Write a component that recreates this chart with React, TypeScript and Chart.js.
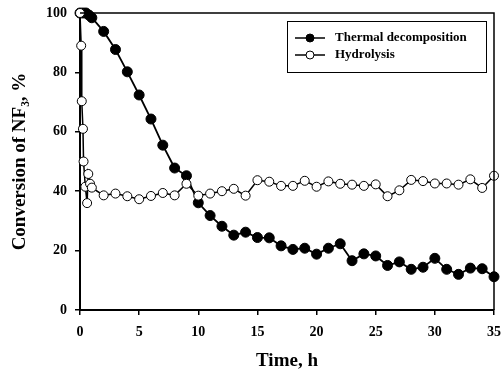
import React, { useEffect, useRef } from "react";
import { Chart, registerables } from "chart.js";

Chart.register(...registerables);

const thermalTime = [0, 0.25, 0.5, 0.75, 1, 2, 3, 4, 5, 6, 7, 8, 9, 10, 11, 12, 13, 14, 15, 16, 17, 18, 19, 20, 21, 22, 23, 24, 25, 26, 27, 28, 29, 30, 31, 32, 33, 34, 35];
const thermalValues = [100, 100, 100, 99.3, 98.4, 93.8, 87.7, 80.2, 72.4, 64.3, 55.5, 47.8, 45.2, 36.1, 31.8, 28.2, 25.2, 26.2, 24.4, 24.3, 21.6, 20.4, 20.8, 18.8, 20.8, 22.3, 16.6, 18.9, 18.2, 15.0, 16.2, 13.7, 14.4, 17.4, 13.7, 12.0, 14.1, 13.9, 11.2];

const hydrolysisTime = [0, 0.1, 0.15, 0.25, 0.3, 0.45, 0.6, 0.7, 0.85, 1, 2, 3, 4, 5, 6, 7, 8, 9, 10, 11, 12, 13, 14, 15, 16, 17, 18, 19, 20, 21, 22, 23, 24, 25, 26, 27, 28, 29, 30, 31, 32, 33, 34, 35];
const hydrolysisValues = [100, 89, 70.3, 61, 50, 41.5, 36, 45.8, 42.5, 41.2, 38.6, 39.2, 38.3, 37.3, 38.4, 39.4, 38.6, 42.5, 38.5, 39.2, 40.0, 40.8, 38.5, 43.7, 43.2, 41.8, 41.8, 43.5, 41.5, 43.3, 42.5, 42.2, 41.8, 42.3, 38.3, 40.3, 43.8, 43.4, 42.6, 42.6, 42.2, 44.0, 41.1, 45.2];

const seriesLabels = ["Thermal decomposition", "Hydrolysis"];
const xTitle = "Time, h";
const yTitle = "Conversion of NF₃, %";

const FONT = "'Liberation Serif', 'Times New Roman', serif";

const framePlugin = {
  id: "frame",
  afterDatasetsDraw(chart: any) {
    const { ctx, chartArea } = chart;
    ctx.save();
    ctx.strokeStyle = "#000";
    ctx.lineWidth = 1.5;
    ctx.beginPath();
    ctx.moveTo(chartArea.left, chartArea.top);
    ctx.lineTo(chartArea.right, chartArea.top);
    ctx.lineTo(chartArea.right, chartArea.bottom);
    ctx.stroke();
    ctx.restore();
  },
};

const legendPlugin = {
  id: "insideLegend",
  afterDraw(chart: any) {
    const { ctx } = chart;
    const x0 = 287, y0 = 21, w = 199, h = 51;
    ctx.save();
    ctx.fillStyle = "#fff";
    ctx.fillRect(x0, y0, w, h);
    ctx.strokeStyle = "#000";
    ctx.lineWidth = 1;
    ctx.strokeRect(x0 + 0.5, y0 + 0.5, w, h);
    const order = [1, 0];
    order.forEach((di, i) => {
      const ds = chart.data.datasets[di];
      const y = y0 + 17 + i * 17;
      ctx.strokeStyle = "#000";
      ctx.lineWidth = 1.5;
      ctx.beginPath();
      ctx.moveTo(x0 + 8, y);
      ctx.lineTo(x0 + 38, y);
      ctx.stroke();
      ctx.beginPath();
      ctx.arc(x0 + 23, y, 4, 0, Math.PI * 2);
      ctx.fillStyle = ds.pointBackgroundColor;
      ctx.fill();
      ctx.lineWidth = 1;
      ctx.stroke();
      ctx.fillStyle = "#000";
      ctx.font = `bold 13px ${FONT}`;
      ctx.textBaseline = "middle";
      ctx.textAlign = "left";
      ctx.fillText(ds.label, x0 + 48, y);
    });
    ctx.restore();
  },
};

export default function App() {
  const ref = useRef<HTMLCanvasElement>(null);
  useEffect(() => {
    const thermal = thermalTime.map((t, i) => ({ x: t, y: thermalValues[i] }));
    const hydro = hydrolysisTime.map((t, i) => ({ x: t, y: hydrolysisValues[i] }));
    const chart = new Chart(ref.current!, {
      type: "line",
      data: {
        datasets: [
          {
            label: seriesLabels[1],
            data: hydro,
            borderColor: "#000",
            borderWidth: 1.5,
            pointRadius: 4.5,
            pointBackgroundColor: "#fff",
            pointBorderColor: "#000",
            pointBorderWidth: 1,
            clip: false as any,
            order: 0,
          },
          {
            label: seriesLabels[0],
            data: thermal,
            borderColor: "#000",
            borderWidth: 1.8,
            pointRadius: 5,
            pointBackgroundColor: "#000",
            pointBorderColor: "#000",
            pointBorderWidth: 1,
            clip: false as any,
            order: 1,
          },
        ],
      },
      options: {
        animation: false,
        responsive: false,
        layout: { padding: 0 },
        plugins: { legend: { display: false }, tooltip: { enabled: false } },
        scales: {
          x: {
            type: "linear",
            min: 0,
            max: 35,
            ticks: { stepSize: 5, color: "#000", font: { family: FONT, size: 14, weight: "bold" }, padding: 9 },
            grid: { drawOnChartArea: false, drawTicks: true, tickLength: 5, color: "#000", lineWidth: 1.5 },
            border: { display: true, color: "#000", width: 2 },
            title: { display: true, text: xTitle, color: "#000", font: { family: FONT, size: 19, weight: "bold" }, padding: { top: 4, bottom: 3 } },
            afterFit: (s: any) => { s.height = 65; s.paddingLeft = 0; s.paddingRight = 7; },
          },
          y: {
            min: 0,
            max: 100,
            ticks: { stepSize: 20, color: "#000", font: { family: FONT, size: 14, weight: "bold" }, padding: 8 },
            grid: { drawOnChartArea: false, drawTicks: true, tickLength: 5, color: "#000", lineWidth: 1.5 },
            border: { display: true, color: "#000", width: 2 },
            title: { display: true, text: yTitle, color: "#000", font: { family: FONT, size: 19, weight: "bold" }, padding: { top: 9, bottom: 4 } },
            afterFit: (s: any) => { s.width = 80; s.paddingTop = 13; s.paddingBottom = 0; },
          },
        },
      },
      plugins: [framePlugin, legendPlugin],
    });
    return () => chart.destroy();
  }, []);
  return (
    <div style={{ position: "fixed", left: 0, top: 0, width: 501, height: 375, background: "#fff" }}>
      <canvas ref={ref} width={501} height={375} style={{ width: 501, height: 375 }} />
    </div>
  );
}
